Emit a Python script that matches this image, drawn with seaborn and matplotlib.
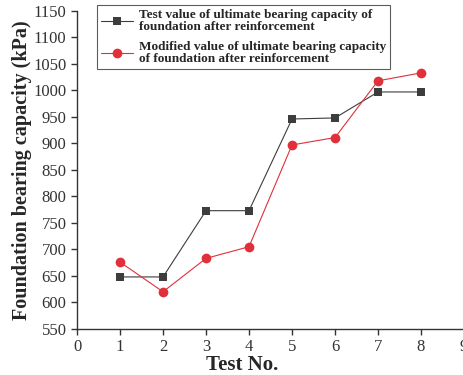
import numpy as np
import pandas as pd
import matplotlib
matplotlib.use('Agg')
import matplotlib.pyplot as plt
import seaborn as sns

test_no = [1, 2, 3, 4, 5, 6, 7, 8]
test_value = [648, 648, 773, 773, 946, 948, 997, 997]
modified_value = [676, 620, 683, 705, 897, 911, 1018, 1033]

label_test = 'Test value of ultimate bearing capacity of\nfoundation after reinforcement'
label_mod = 'Modified value of ultimate bearing capacity\nof foundation after reinforcement'

sns.set_style('ticks')
plt.rcParams['font.family'] = ['Liberation Serif', 'DejaVu Serif']

fig = plt.figure(figsize=(4.64, 3.75), dpi=100)
ax = fig.add_axes([0.166, 0.123, 0.834, 0.848])

sns.lineplot(x=test_no, y=test_value, ax=ax, color='#3d3d3d', linewidth=0.8,
             marker='s', markersize=6, markeredgewidth=0, label=label_test)
sns.lineplot(x=test_no, y=modified_value, ax=ax, color='#e0303a', linewidth=0.8,
             marker='o', markersize=7, markeredgewidth=0, label=label_mod)

ax.set_xlim(0, 9)
ax.set_ylim(550, 1150)
ax.set_xticks(range(0, 10))
ax.set_yticks(range(550, 1151, 50))
ax.tick_params(labelsize=12, direction='out', length=4, width=1, colors='#333333')
for lab in ax.get_xticklabels() + ax.get_yticklabels():
    lab.set_color('#333333')
sns.despine(ax=ax)
for s in ['left', 'bottom']:
    ax.spines[s].set_color('#333333')
    ax.spines[s].set_linewidth(1)

ax.set_xlabel('Test No.', fontsize=15, fontweight='bold')
ax.xaxis.set_label_coords(0.426, -0.083)
ax.set_ylabel('Foundation bearing capacity (kPa)', fontsize=14.5, fontweight='bold', labelpad=1)

leg = ax.legend(loc='upper left', bbox_to_anchor=(0.052, 1.018), fontsize=9.5, frameon=True,
                fancybox=False, edgecolor='#333333', handlelength=2.4, borderpad=0.3,
                labelspacing=0.6, handletextpad=0.45, borderaxespad=0)
leg.get_frame().set_linewidth(0.8)
for t in leg.get_texts():
    t.set_fontweight('bold')
    t.set_linespacing(1.0)

fig.savefig('out.png', dpi=100)
